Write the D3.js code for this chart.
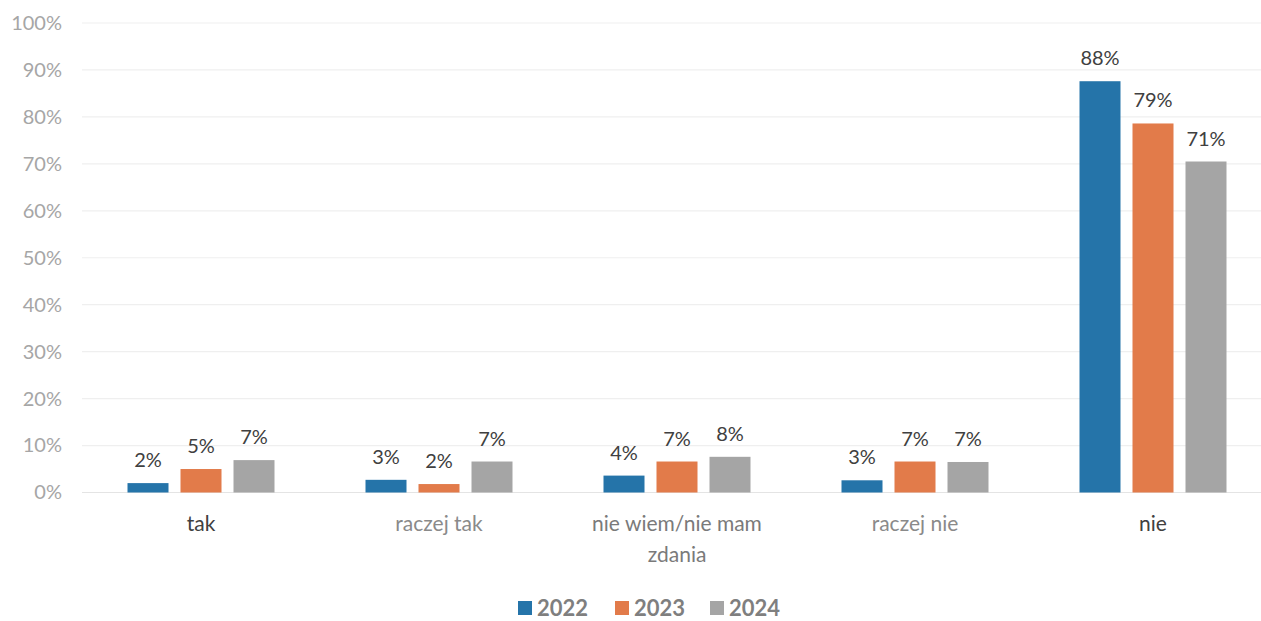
<!DOCTYPE html>
<html>
<head>
<meta charset="utf-8">
<script src="https://cdn.jsdelivr.net/npm/d3@7"></script>
<style>
  html, body { margin: 0; padding: 0; background: #ffffff; }
  svg { display: block; font-family: Lato, "Open Sans", sans-serif; }
</style>
</head>
<body>
<svg id="chart" width="1261" height="621"></svg>
<script>
const categories = ["tak", "raczej tak", "nie wiem/nie mam zdania", "raczej nie", "nie"];
const years = ["2022", "2023", "2024"];
const values2022 = [2.0, 2.7, 3.6, 2.6, 87.6];
const values2023 = [5.0, 1.8, 6.6, 6.6, 78.6];
const values2024 = [6.9, 6.6, 7.6, 6.5, 70.5];
const yTicks = [0, 10, 20, 30, 40, 50, 60, 70, 80, 90, 100];

const seriesValues = { "2022": values2022, "2023": values2023, "2024": values2024 };
const colors = { "2022": "#2574a9", "2023": "#e27b4a", "2024": "#a5a5a5" };
const catColors = { "tak": "#404040", "raczej tak": "#8a8a8a", "nie wiem/nie mam zdania": "#7a7a7a", "raczej nie": "#8a8a8a", "nie": "#404040" };

const svg = d3.select("#chart");

const y = d3.scaleLinear().domain([0, 100]).range([492.5, 23]);
const x0 = d3.scaleBand().domain(categories).range([82, 1272]).padding(0);
const x1 = d3.scaleBand().domain(years).range([-73.5, 73.5]).paddingInner(12 / 53).paddingOuter(0);

// gridlines
svg.append("g").selectAll("line").data(yTicks).join("line")
  .attr("x1", 82).attr("x2", 1261)
  .attr("y1", d => y(d)).attr("y2", d => y(d))
  .attr("stroke", d => d === 0 ? "#e4e4e4" : "#efefef")
  .attr("stroke-width", 1.2);

// y axis labels
const yAxis = d3.axisLeft(y).tickValues(yTicks).tickFormat(d => d + "%").tickSize(0).tickPadding(0);
const yg = svg.append("g").attr("transform", "translate(62,0)").call(yAxis);
yg.select(".domain").remove();
yg.selectAll("text").attr("fill", "#a6a6a6").style("font-size", "20px").style("font-family", "Lato, sans-serif");

// bars
const rows = [];
years.forEach(yr => categories.forEach((c, i) => rows.push({ cat: c, year: yr, v: seriesValues[yr][i] })));

const bx = d => x0(d.cat) + x0.bandwidth() / 2 + x1(d.year);

svg.append("g").selectAll("rect").data(rows).join("rect")
  .attr("x", bx)
  .attr("width", x1.bandwidth())
  .attr("y", d => y(d.v))
  .attr("height", d => y(0) - y(d.v))
  .attr("fill", d => colors[d.year]);

// value labels
svg.append("g").selectAll("text").data(rows).join("text")
  .attr("x", d => bx(d) + x1.bandwidth() / 2)
  .attr("y", d => y(d.v) - 16)
  .attr("text-anchor", "middle")
  .attr("fill", "#404040")
  .style("font-size", "20px")
  .text(d => Math.round(d.v) + "%");

// category labels (wrapped)
const wrap = { "nie wiem/nie mam zdania": ["nie wiem/nie mam", "zdania"] };
const cg = svg.append("g").selectAll("text").data(categories).join("text")
  .attr("x", d => x0(d) + x0.bandwidth() / 2)
  .attr("y", 531)
  .attr("text-anchor", "middle")
  .attr("fill", d => catColors[d])
  .style("font-size", "21px");
cg.each(function(d) {
  const lines = wrap[d] || [d];
  d3.select(this).selectAll("tspan").data(lines).join("tspan")
    .attr("x", x0(d) + x0.bandwidth() / 2)
    .attr("dy", (l, i) => i === 0 ? 0 : 31)
    .text(l => l);
});

// legend
const legendX = [518, 615, 710];
const lg = svg.append("g").selectAll("g").data(years).join("g")
  .attr("transform", (d, i) => `translate(${legendX[i]},601)`);
lg.append("rect").attr("width", 14).attr("height", 14).attr("fill", d => colors[d]);
lg.append("text").attr("x", 19).attr("y", 15)
  .attr("fill", "#7f7f7f")
  .style("font-size", "22px").style("font-weight", "bold")
  .text(d => d);
</script>
</body>
</html>
